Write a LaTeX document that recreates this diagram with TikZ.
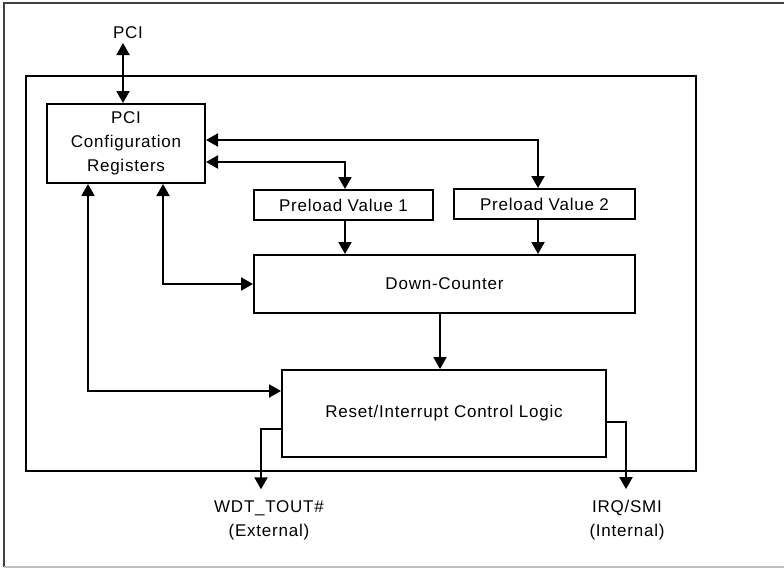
\documentclass[tikz,border=0pt]{standalone}
\usepackage{fontspec}
\setmainfont[LetterSpace=4.5]{Liberation Sans}
\usetikzlibrary{arrows.meta}
\begin{document}
\begin{tikzpicture}[x=1pt,y=-1pt,line width=2pt,>={Triangle[length=12pt,width=13pt]},
		box/.style={draw,align=center,inner sep=0pt,font=\fontsize{17}{24}\selectfont},
		lbl/.style={align=center,inner sep=0pt,font=\fontsize{17}{24}\selectfont}]
	\useasboundingbox (0,0) rectangle (784,568);
	\draw[black!75] (784,3)--(4,3)--(4,567);
	\draw[black!25] (4,567)--(784,567);
	\draw (26,76) rectangle (696,471);
	\node[box,minimum width=158pt,minimum height=79pt] (cfg) at (126,143.5) {PCI\\Configuration\\Registers};
	\node[box,minimum width=179pt,minimum height=30pt] (pv1) at (343.5,205) {Preload Value 1};
	\node[box,minimum width=181pt,minimum height=30pt] (pv2) at (544.5,204) {Preload Value 2};
	\node[box,minimum width=381pt,minimum height=58pt] (dc) at (444.5,284) {Down-Counter};
	\node[box,minimum width=324pt,minimum height=87pt] (rst) at (444,413.5) {Reset/Interrupt Control Logic};
	\node[lbl] (pci) at (128,33) {PCI};
	\node[lbl] (wdt) at (269,520) {WDT\_TOUT\#\\(External)};
	\node[lbl] (irq) at (627,520) {IRQ/SMI\\(Internal)};
	\draw[<->] ([xshift=-5pt,yshift=-3pt]pci.south) -- ([xshift=-5pt]pci.south |- cfg.north);
	\draw[<->] ([yshift=3.5pt]cfg.east) -| ([xshift=-6.5pt]pv2.north);
	\draw[<->] ([yshift=-18.5pt]cfg.east) -| ([xshift=1.5pt]pv1.north);
	\draw[->] ([xshift=1.5pt]pv1.south) -- ([xshift=1.5pt]pv1.south |- dc.north);
	\draw[->] ([xshift=-6.5pt]pv2.south) -- ([xshift=-6.5pt]pv2.south |- dc.north);
	\draw[<->] ([xshift=37pt]cfg.south) |- (dc.west);
	\draw[<->] ([xshift=-38pt]cfg.south) |- ([yshift=22.5pt]rst.west);
	\draw[->] ([xshift=-4.5pt]dc.south) -- ([xshift=-4.5pt]dc.south |- rst.north);
	\draw[->] ([yshift=-15pt]rst.west) -| ([xshift=-8pt,yshift=10pt]wdt.north);
	\draw[->] ([yshift=-8.5pt]rst.east) -| ([xshift=-1pt,yshift=10pt]irq.north);
\end{tikzpicture}
\end{document}
